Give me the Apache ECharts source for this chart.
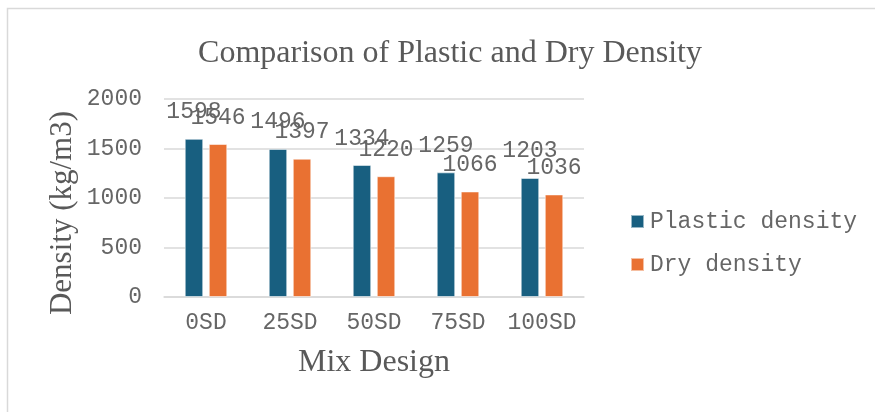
<!DOCTYPE html>
<html>
<head>
<meta charset="utf-8">
<script src="https://cdn.jsdelivr.net/npm/echarts@6/dist/echarts.min.js"></script>
<style>
  html, body { margin: 0; padding: 0; background: #fff; }
  #chart { width: 875px; height: 412px; }
</style>
</head>
<body>
<div id="chart"></div>
<script>
// Mix designs and measured densities (kg/m3)
const mixDesigns = ['0SD', '25SD', '50SD', '75SD', '100SD'];
const plasticDensity = [1598, 1496, 1334, 1259, 1203];
const dryDensity = [1546, 1397, 1220, 1066, 1036];
const yTicks = { min: 0, max: 2000, interval: 500 };

const textGray = '#595959';
const monoGray = '#666666';
const gridGray = '#d9d9d9';
const mono = 'Liberation Mono, Courier New, monospace';
const serif = 'Liberation Serif, Times New Roman, serif';

const chart = echarts.init(document.getElementById('chart'), null, { renderer: 'canvas' });

const labelStyle = {
  show: true,
  position: 'top',
  distance: 15,
  fontFamily: mono,
  fontSize: 23,
  color: monoGray
};

chart.setOption({
  backgroundColor: '#ffffff',
  animation: false,
  graphic: [{
    type: 'rect',
    shape: { x: 7.5, y: 8.5, width: 900, height: 420 },
    style: { fill: 'none', stroke: gridGray, lineWidth: 1.5 },
    silent: true,
    z: -1
  }],
  title: {
    text: 'Comparison of Plastic and Dry Density',
    left: 445,
    textAlign: 'center',
    top: 33,
    textStyle: { fontFamily: serif, fontSize: 32, fontWeight: 'normal', color: textGray }
  },
  legend: {
    orient: 'vertical',
    left: 625,
    top: 205,
    itemWidth: 13,
    itemHeight: 13,
    itemGap: 20,
    icon: 'rect',
    textStyle: { fontFamily: mono, fontSize: 23, color: monoGray, padding: [0, 0, 0, 1] },
    data: ['Plastic density', 'Dry density']
  },
  grid: { left: 164, right: 291, top: 99, bottom: 115 },
  xAxis: {
    type: 'category',
    data: mixDesigns,
    name: 'Mix Design',
    nameLocation: 'middle',
    nameGap: 50,
    nameTextStyle: { fontFamily: serif, fontSize: 32, color: textGray },
    axisLine: { lineStyle: { color: gridGray, width: 1.5 } },
    axisTick: { show: false },
    axisLabel: { interval: 0, fontFamily: mono, fontSize: 23, color: monoGray, margin: 14 }
  },
  yAxis: {
    type: 'value',
    min: yTicks.min,
    max: yTicks.max,
    interval: yTicks.interval,
    name: 'Density (kg/m3)',
    nameLocation: 'middle',
    nameGap: 86,
    nameTextStyle: { fontFamily: serif, fontSize: 31, color: textGray, padding: [0, 30, 0, 0] },
    axisLine: { show: false },
    axisTick: { show: false },
    axisLabel: {
      fontFamily: mono, fontSize: 23, color: monoGray, margin: 22,
      formatter: (v) => String(v)
    },
    splitLine: { lineStyle: { color: gridGray, width: 1.5 } }
  },
  series: [{
    name: 'Plastic density',
    type: 'bar',
    data: plasticDensity,
    barWidth: 18.5,
    barGap: '30%',
    itemStyle: { color: '#185f80', borderColor: 'rgba(255,255,255,0.55)', borderWidth: 1 },
    label: labelStyle
  }, {
    name: 'Dry density',
    type: 'bar',
    data: dryDensity,
    barWidth: 18.5,
    itemStyle: { color: '#e97132', borderColor: 'rgba(255,255,255,0.55)', borderWidth: 1 },
    label: labelStyle
  }]
});
</script>
</body>
</html>
